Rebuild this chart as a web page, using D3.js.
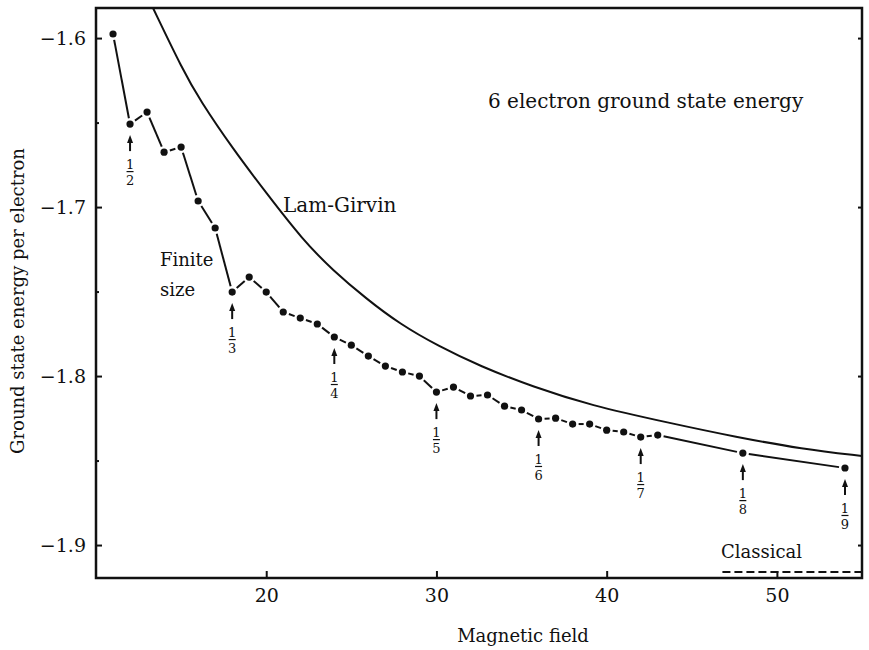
<!DOCTYPE html>
<html>
<head>
<meta charset="utf-8">
<script src="https://cdn.jsdelivr.net/npm/d3@7"></script>
<style>
    body { margin: 0; background: #fff; }
    text { font-family: "DejaVu Serif", serif; fill: #111; }
</style>
</head>
<body>
<svg id="chart" width="869" height="650"></svg>
<script>
// finite size (6 electrons) ground state energy per electron
var finiteB = [11, 12, 13, 14, 15, 16, 17, 18, 19, 20, 21, 22, 23, 24, 25, 26, 27, 28, 29, 30,
    31, 32, 33, 34, 35, 36, 37, 38, 39, 40, 41, 42, 43, 48, 54];
var finiteE = [-1.5976, -1.6509, -1.6438, -1.6675, -1.6645, -1.6964, -1.7124, -1.7503, -1.7414, -1.7503,
    -1.7621, -1.7657, -1.7692, -1.7769, -1.7817, -1.7882, -1.7941, -1.7976, -1.8000, -1.8095,
    -1.8065, -1.8118, -1.8112, -1.8178, -1.8201, -1.8254, -1.8249, -1.8284, -1.8284, -1.8320,
    -1.8331, -1.8361, -1.8349, -1.8456, -1.8544];

// Lam-Girvin curve
var lamB = [13.35, 15.1, 16.1, 18.05, 20.05, 22.15, 23.9, 25.9, 27.85, 30.1, 32.55, 35.7, 39.0, 43.7, 47.6, 51.5, 55];
var lamE = [-1.5822, -1.6189, -1.6367, -1.6657, -1.6923, -1.7195, -1.7373, -1.7544, -1.7692, -1.7822,
    -1.7941, -1.8065, -1.8172, -1.8278, -1.8361, -1.8432, -1.8473];

// classical limit
var classicalB = [46.8, 55];
var classicalE = [-1.916, -1.916];

// filling fractions 1/n marked with arrows
var fillFlux = [12, 18, 24, 30, 36, 42, 48, 54];
var fillDen = ["2", "3", "4", "5", "6", "7", "8", "9"];

var xTicks = [20, 30, 40, 50];
var yTicks = [-1.6, -1.7, -1.8, -1.9];

var margin = {top: 8, right: 7, bottom: 72, left: 96};
var width = 869 - margin.left - margin.right;
var height = 650 - margin.top - margin.bottom;

var svg = d3.select("#chart");
var g = svg.append("g").attr("transform", "translate(" + margin.left + "," + margin.top + ")");

var x = d3.scaleLinear().domain([10, 55]).range([0, width]);
var y = d3.scaleLinear().domain([-1.9195, -1.5822]).range([height, 0]);

svg.append("defs").append("clipPath").attr("id", "plotClip")
    .append("rect").attr("width", width).attr("height", height);

// axes, ticks pointing inward
var xAxis = g.append("g").attr("transform", "translate(0," + height + ")")
    .call(d3.axisBottom(x).tickValues(xTicks).tickSize(-7).tickPadding(11).tickFormat(d3.format("d")));
var yAxis = g.append("g")
    .call(d3.axisLeft(y).tickValues(yTicks).tickSize(-6).tickPadding(10)
        .tickFormat(function (d) { return "\u2212" + Math.abs(d).toFixed(1); }));
var yMinor = g.append("g")
    .call(d3.axisLeft(y).tickValues([-1.65, -1.75, -1.85]).tickSize(-3).tickFormat(""));
var yRight = g.append("g").attr("transform", "translate(" + width + ",0)")
    .call(d3.axisRight(y).tickValues(yTicks).tickSize(-4).tickFormat(""));

[xAxis, yAxis, yMinor, yRight].forEach(function (a) {
    a.select(".domain").remove();
    a.selectAll("line").attr("stroke", "#111").attr("stroke-width", 2);
    a.selectAll("text").style("font-family", "DejaVu Serif, serif").style("font-size", "19px").attr("fill", "#111");
});

// frame
g.append("rect")
    .attr("width", width).attr("height", height)
    .attr("fill", "none").attr("stroke", "#111").attr("stroke-width", 2.5);

var plot = g.append("g").attr("clip-path", "url(#plotClip)");

// Lam-Girvin
var lamData = lamB.map(function (b, i) { return [b, lamE[i]]; });
plot.append("path")
    .datum(lamData)
    .attr("fill", "none").attr("stroke", "#111").attr("stroke-width", 2)
    .attr("d", d3.line().x(function (d) { return x(d[0]); }).y(function (d) { return y(d[1]); })
        .curve(d3.curveBasis));

// classical
var classicalData = classicalB.map(function (b, i) { return [b, classicalE[i]]; });
plot.append("path")
    .datum(classicalData)
    .attr("fill", "none").attr("stroke", "#111").attr("stroke-width", 2)
    .attr("stroke-dasharray", "8,4")
    .attr("d", d3.line().x(function (d) { return x(d[0]); }).y(function (d) { return y(d[1]); }));

// finite size: segments leave a small gap at every dot
var finiteData = finiteB.map(function (b, i) { return [b, finiteE[i]]; });
var segs = [];
for (var i = 0; i < finiteData.length - 1; i++) {
    var x0 = x(finiteData[i][0]), y0 = y(finiteData[i][1]);
    var x1 = x(finiteData[i + 1][0]), y1 = y(finiteData[i + 1][1]);
    var len = Math.sqrt((x1 - x0) * (x1 - x0) + (y1 - y0) * (y1 - y0));
    var ux = (x1 - x0) / len, uy = (y1 - y0) / len;
    var gap = 6;
    segs.push([x0 + ux * gap, y0 + uy * gap, x1 - ux * gap, y1 - uy * gap]);
}
plot.selectAll(".seg").data(segs).enter().append("line")
    .attr("class", "seg")
    .attr("x1", function (d) { return d[0]; }).attr("y1", function (d) { return d[1]; })
    .attr("x2", function (d) { return d[2]; }).attr("y2", function (d) { return d[3]; })
    .attr("stroke", "#111").attr("stroke-width", 2);

plot.selectAll(".dot").data(finiteData).enter().append("circle")
    .attr("class", "dot")
    .attr("cx", function (d) { return x(d[0]); })
    .attr("cy", function (d) { return y(d[1]); })
    .attr("r", 3.6).attr("fill", "#111");

// arrows and fractions under the filling factors
var fills = fillFlux.map(function (b, i) {
    return {b: b, den: fillDen[i], e: finiteE[finiteB.indexOf(b)]};
});
var fg = g.selectAll(".fill").data(fills).enter().append("g")
    .attr("class", "fill")
    .attr("transform", function (d) { return "translate(" + x(d.b) + "," + y(d.e) + ")"; });
fg.append("line").attr("x1", 0).attr("x2", 0).attr("y1", 16).attr("y2", 27)
    .attr("stroke", "#111").attr("stroke-width", 2);
fg.append("path").attr("d", "M0,11L-3,19L3,19Z").attr("fill", "#111");
fg.append("text").attr("y", 45).attr("text-anchor", "middle").style("font-size", "13px").text("1");
fg.append("line").attr("x1", -3.5).attr("x2", 3.5).attr("y1", 47.5).attr("y2", 47.5)
    .attr("stroke", "#111").attr("stroke-width", 1.2);
fg.append("text").attr("y", 61).attr("text-anchor", "middle").style("font-size", "13px")
    .text(function (d) { return d.den; });

// labels
function label(tx, ty, s, size) {
    svg.append("text").attr("x", tx).attr("y", ty).style("font-size", size + "px").text(s);
}
label(488, 108, "6 electron ground state energy", 20);
label(283, 212, "Lam-Girvin", 20);
label(160, 266, "Finite", 18);
label(160, 296, "size", 18);
label(721, 558, "Classical", 18);

svg.append("text")
    .attr("x", 523).attr("y", 642)
    .attr("text-anchor", "middle").style("font-size", "18px")
    .text("Magnetic field");
svg.append("text")
    .attr("transform", "translate(24," + 301 + ") rotate(-90)")
    .attr("text-anchor", "middle").style("font-size", "18px")
    .text("Ground state energy per electron");
</script>
</body>
</html>
